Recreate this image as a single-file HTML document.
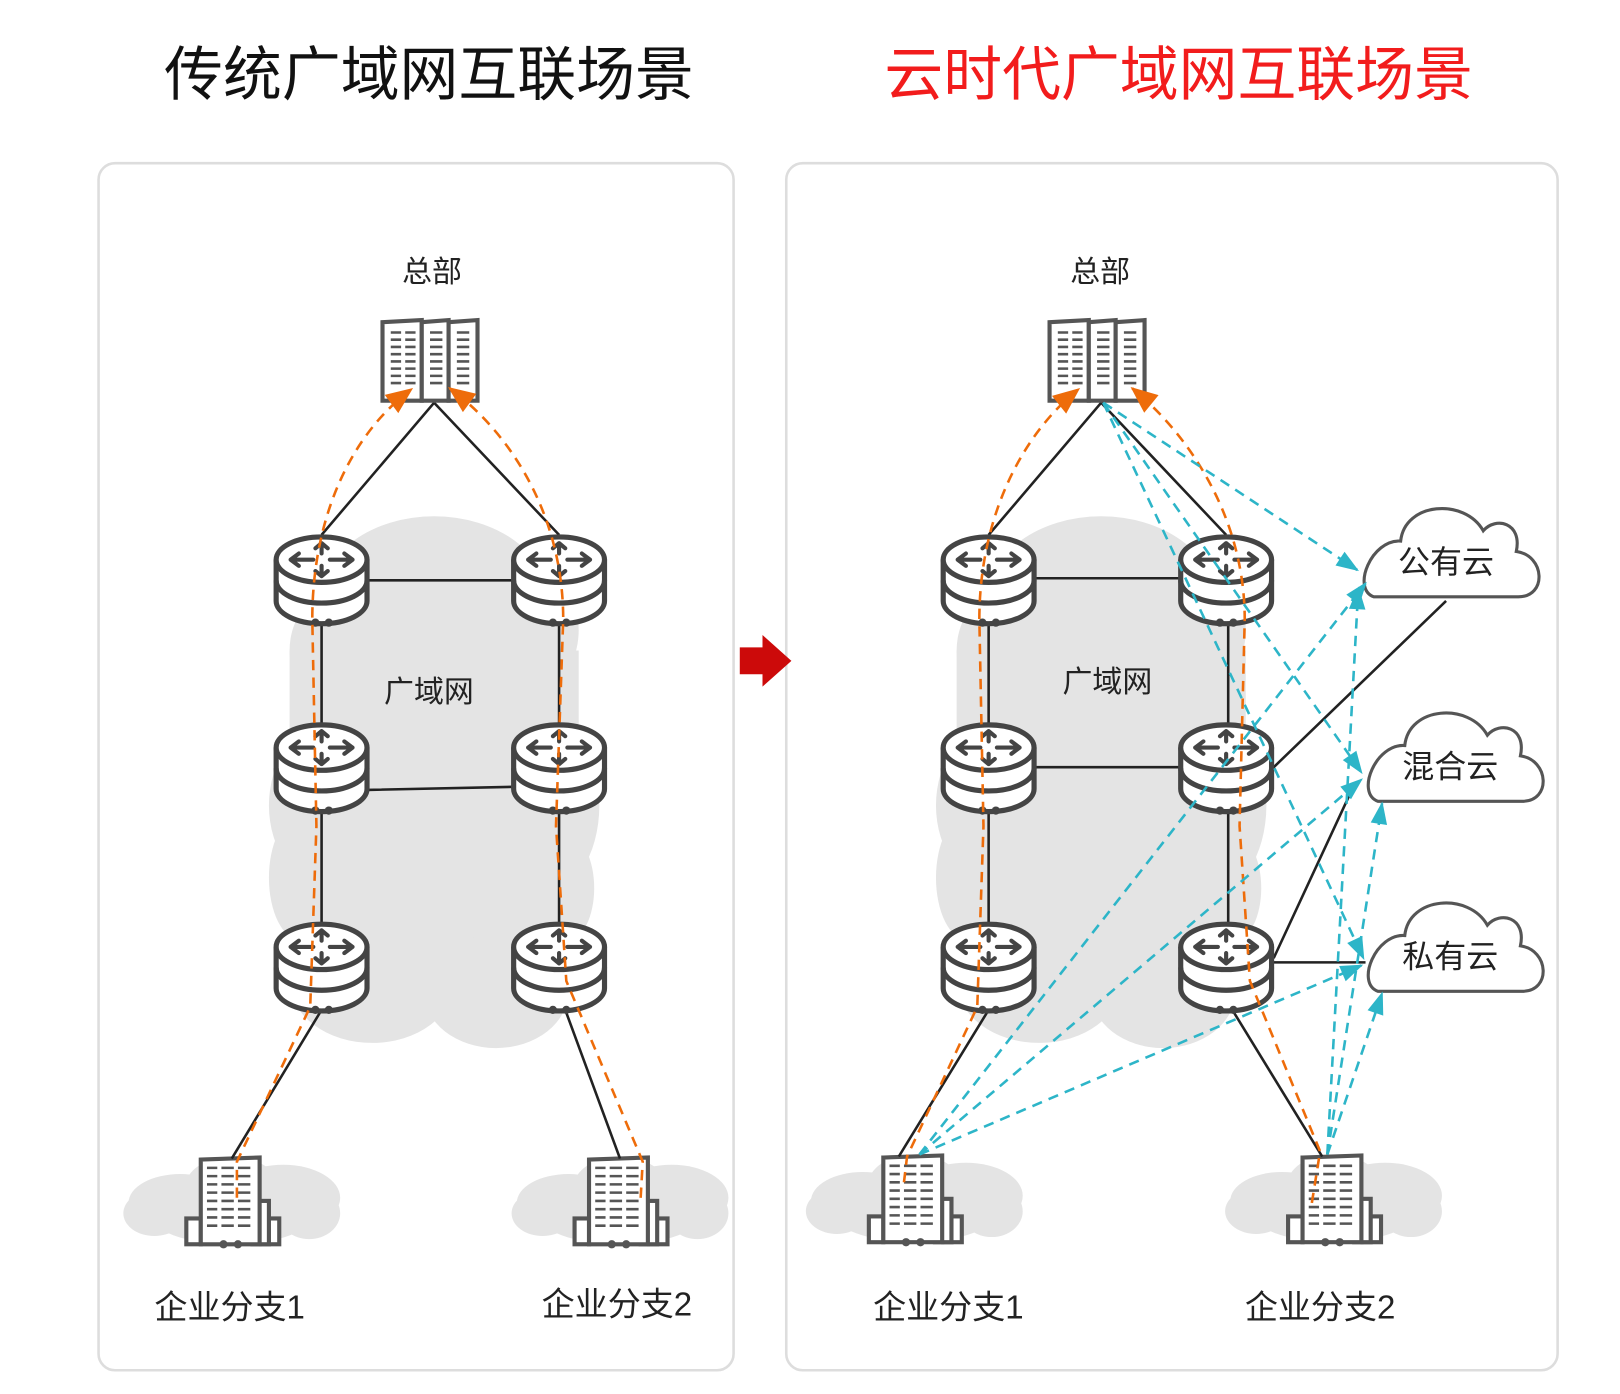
<!DOCTYPE html>
<html><head><meta charset="utf-8"><style>
html,body{margin:0;padding:0;background:#fff;}
svg{display:block}
text{font-family:"Liberation Sans","Noto Sans CJK SC",sans-serif;}
</style></head><body>
<svg width="1620" height="1394" viewBox="0 0 1568 1350" xmlns="http://www.w3.org/2000/svg">
<defs>
<marker id="ao" markerUnits="userSpaceOnUse" markerWidth="60" markerHeight="60" refX="0" refY="0" orient="auto" overflow="visible"><path d="M-24,-11 L2,0 L-24,11 Z" fill="#ee6c0a"/></marker>
<marker id="ac" markerUnits="userSpaceOnUse" markerWidth="60" markerHeight="60" refX="0" refY="0" orient="auto" overflow="visible"><path d="M-20,-8 L2,0 L-20,8 Z" fill="#2db5c8"/></marker>
<g id="router" fill="#fff" stroke="#444" stroke-width="5">
<path d="M-44,-18 V22 A44,22 0 0 0 44,22 V-18"/>
<path d="M-44,2 A44,22 0 0 0 44,2" fill="none"/>
<ellipse cx="0" cy="-18" rx="44" ry="22"/>
<g stroke-width="4" fill="none" stroke-linecap="round">
<path d="M-30,-18 H-8 M-30,-18 l8,-6 M-30,-18 l8,6"/>
<path d="M30,-18 H8 M30,-18 l-8,-6 M30,-18 l-8,6"/>
<path d="M0,-34 V-24 M0,-34 l-6,5 M0,-34 l6,5"/>
<path d="M0,-2 V-12 M0,-2 l-6,-5 M0,-2 l6,-5"/>
</g>
<circle cx="-6" cy="43" r="4" fill="#444" stroke="none"/>
<circle cx="7" cy="43" r="4" fill="#444" stroke="none"/>
</g>
<g id="server" fill="#fff" stroke="#555" stroke-width="4">
<path d="M0,2 L38,0 V78 H0 Z"/><path d="M38,2 L64,0 V78 H38 Z"/><path d="M64,2 L92,0 V78 H64 Z"/>
<g stroke-width="2.5"><path d="M8,12h10M22,12h10M8,19h10M22,19h10M8,26h10M22,26h10M8,33h10M22,33h10M8,40h10M22,40h10M8,47h10M22,47h10M8,54h10M22,54h10M8,61h10M22,61h10"/>
<path d="M46,12h12M46,19h12M46,26h12M46,33h12M46,40h12M46,47h12M46,54h12M46,61h12M72,12h12M72,19h12M72,26h12M72,33h12M72,40h12M72,47h12M72,54h12M72,61h12"/></g>
</g>
<g id="bldg">
<g fill="#e4e4e4"><ellipse cx="0" cy="10" rx="80" ry="30"/><ellipse cx="-50" cy="0" rx="50" ry="28"/><ellipse cx="50" cy="-5" rx="55" ry="32"/><ellipse cx="0" cy="-15" rx="45" ry="30"/><ellipse cx="75" cy="10" rx="30" ry="25"/><ellipse cx="-75" cy="10" rx="30" ry="22"/></g>
<g fill="#fff" stroke="#555" stroke-width="4">
<rect x="-44" y="15" width="14" height="25"/><rect x="28" y="15" width="18" height="25"/><rect x="20" y="-2" width="16" height="42"/>
<path d="M-30,-42 L27,-44 V40 H-30 Z"/>
</g>
<g stroke="#555" stroke-width="2.5"><path d="M-24,-34h10M-10,-34h12M6,-34h12M-24,-26h10M-10,-26h12M6,-26h12M-24,-18h10M-10,-18h12M6,-18h12M-24,-10h10M-10,-10h12M6,-10h12M-24,-2h10M-10,-2h12M6,-2h12M-24,6h10M-10,6h12M6,6h12M-24,14h10M-10,14h12M6,14h12M-24,22h10M-10,22h12M6,22h12"/></g>
<circle cx="-8" cy="40" r="4" fill="#555"/><circle cx="6" cy="40" r="4" fill="#555"/>
</g>
<g id="wan" fill="#e4e4e4">
<ellipse cx="0" cy="0" rx="110" ry="80"/><ellipse cx="-90" cy="50" rx="50" ry="60"/><ellipse cx="80" cy="30" rx="60" ry="70"/>
<rect x="-140" y="50" width="280" height="200"/><ellipse cx="-100" cy="200" rx="60" ry="80"/><ellipse cx="100" cy="200" rx="60" ry="90"/>
<rect x="-120" y="180" width="240" height="200"/><ellipse cx="-60" cy="370" rx="80" ry="60"/><ellipse cx="60" cy="380" rx="70" ry="55"/>
<ellipse cx="-130" cy="270" rx="30" ry="60"/><ellipse cx="130" cy="280" rx="25" ry="50"/>
</g>
<g id="cloud"><path d="M12,86 H152 C180,86 178,46 150,42 C156,14 130,8 118,22 C100,-10 42,-6 38,32 C10,30 -10,78 12,86 Z" fill="#fff" stroke="#555" stroke-width="3"/></g>
</defs>

<text x="415" y="92" font-size="57" text-anchor="middle" fill="#111">传统广域网互联场景</text>
<text x="1141" y="92" font-size="57" text-anchor="middle" fill="#f21c1c">云时代广域网互联场景</text>

<rect x="95" y="158" width="615" height="1169" rx="16" fill="#fff" stroke="#ddd" stroke-width="2.5"/>
<rect x="761" y="158" width="747" height="1169" rx="16" fill="#fff" stroke="#ddd" stroke-width="2.5"/>
<path d="M716,627 H738 V615 L766,640 L738,665 V653 H716 Z" fill="#cc0a0a"/>

<!-- LEFT -->
<use href="#wan" x="420" y="580"/>
<use href="#bldg" x="224" y="1165"/><use href="#bldg" x="600" y="1165"/>
<g stroke="#222" stroke-width="2.5" fill="none">
<path d="M420,390 L311,518 M420,390 L541,518"/>
<path d="M355,562 H497 M355,765 L497,762"/>
<path d="M311,602 V700 M541,602 V700 M311,785 V893 M541,785 V893"/>
<path d="M311,978 L224,1122 M547,978 L600,1122"/>
</g>
<text x="418" y="273" font-size="29" text-anchor="middle" fill="#222">总部</text>
<text x="415" y="680" font-size="29" text-anchor="middle" fill="#222">广域网</text>
<use href="#server" x="370" y="310"/>
<use href="#router" x="311" y="560"/><use href="#router" x="541" y="560"/>
<use href="#router" x="311" y="742"/><use href="#router" x="541" y="742"/>
<use href="#router" x="311" y="935"/><use href="#router" x="541" y="935"/>
<g stroke="#ee6c0a" stroke-width="2.5" stroke-dasharray="10,7" fill="none">
<path d="M229,1160 L229,1125 L300,975 L306,800 L302,600 C302,500 340,420 398,377" marker-end="url(#ao)"/>
<path d="M620,1160 L622,1125 L548,950 L538,800 L545,600 C545,500 495,420 435,376" marker-end="url(#ao)"/>
</g>
<text x="222" y="1277" font-size="32" text-anchor="middle" fill="#222">企业分支1</text>
<text x="597" y="1274" font-size="32" text-anchor="middle" fill="#222">企业分支2</text>

<!-- RIGHT -->
<use href="#wan" x="1066" y="580"/>
<use href="#bldg" x="885" y="1163"/><use href="#bldg" x="1291" y="1163"/>
<use href="#cloud" x="1318" y="492"/><use href="#cloud" x="1322" y="690"/><use href="#cloud" x="1322" y="874"/>
<text x="1400" y="555" font-size="31" text-anchor="middle" fill="#222">公有云</text>
<text x="1404" y="753" font-size="31" text-anchor="middle" fill="#222">混合云</text>
<text x="1404" y="937" font-size="31" text-anchor="middle" fill="#222">私有云</text>
<g stroke="#222" stroke-width="2.5" fill="none">
<path d="M1066,390 L957,518 M1066,390 L1187,518"/>
<path d="M1001,560 H1143 M1001,743 H1143"/>
<path d="M957,602 V700 M1189,602 V700 M957,785 V893 M1189,785 V893"/>
<path d="M957,978 L870,1120 M1193,978 L1280,1120"/>
<path d="M1231,745 L1400,582 M1233,928 L1312,758 M1233,932 H1322"/>
</g>
<text x="1065" y="273" font-size="29" text-anchor="middle" fill="#222">总部</text>
<text x="1072" y="670" font-size="29" text-anchor="middle" fill="#222">广域网</text>
<use href="#server" x="1016" y="310"/>
<use href="#router" x="957" y="560"/><use href="#router" x="1187" y="560"/>
<use href="#router" x="957" y="742"/><use href="#router" x="1187" y="742"/>
<use href="#router" x="957" y="935"/><use href="#router" x="1187" y="935"/>
<g stroke="#ee6c0a" stroke-width="2.5" stroke-dasharray="10,7" fill="none">
<path d="M875,1145 L878,1120 L946,975 L952,800 L948,600 C948,500 990,420 1044,377" marker-end="url(#ao)"/>
<path d="M1270,1165 L1278,1115 L1210,950 L1200,800 L1205,600 C1205,500 1150,420 1096,376" marker-end="url(#ao)"/>
</g>
<g stroke="#2db5c8" stroke-width="2.5" stroke-dasharray="10,7" fill="none">
<path d="M1068,390 L1314,552" marker-end="url(#ac)"/>
<path d="M1068,390 L1318,748" marker-end="url(#ac)"/>
<path d="M1068,390 L1320,928" marker-end="url(#ac)"/>
<path d="M890,1118 L1322,565" marker-end="url(#ac)"/>
<path d="M890,1118 L1318,755" marker-end="url(#ac)"/>
<path d="M890,1118 L1318,935" marker-end="url(#ac)"/>
<path d="M1285,1118 L1315,570" marker-end="url(#ac)"/>
<path d="M1285,1118 L1338,778" marker-end="url(#ac)"/>
<path d="M1285,1118 L1338,962" marker-end="url(#ac)"/>
</g>
<text x="918" y="1277" font-size="32" text-anchor="middle" fill="#222">企业分支1</text>
<text x="1278" y="1277" font-size="32" text-anchor="middle" fill="#222">企业分支2</text>
</svg>
</body></html>
